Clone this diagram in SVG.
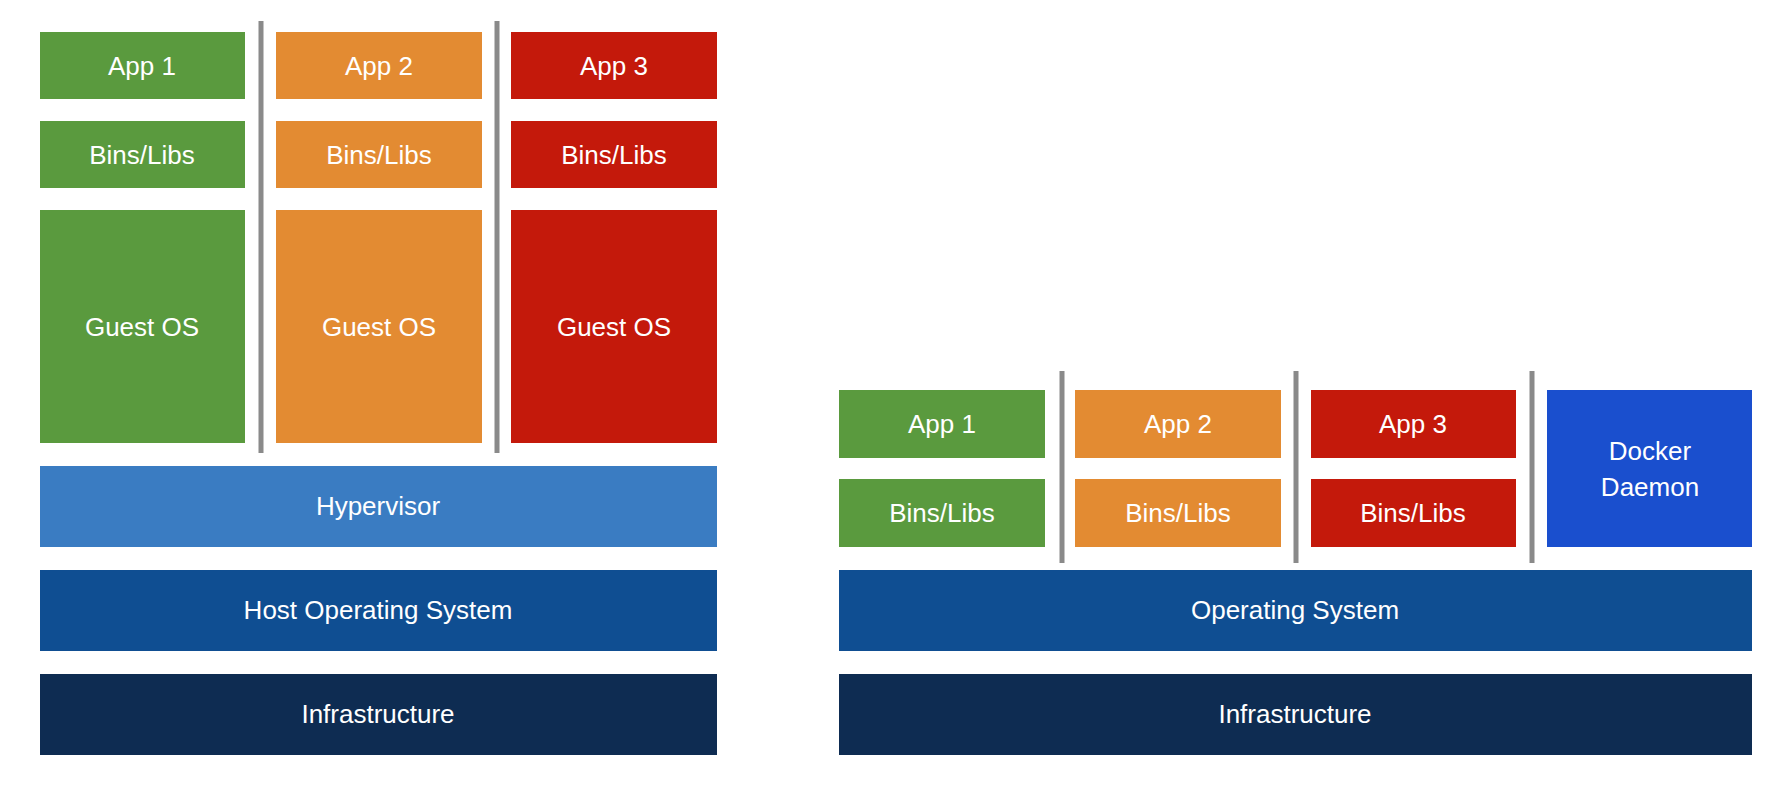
<svg xmlns="http://www.w3.org/2000/svg" width="1790" height="796" viewBox="0 0 1790 796">
<style>
text{font-family:"Liberation Sans",Arial,sans-serif;font-size:26px;fill:#fff;text-anchor:middle;dominant-baseline:central}
.g{fill:#5a9a3e}.o{fill:#e38b32}.r{fill:#c4190b}.hv{fill:#3a7cc2}.os{fill:#0f4e92}.inf{fill:#0e2c52}.dk{fill:#1a4fce}
line{stroke:#8a8a8a;stroke-width:5}
</style>
<rect width="1790" height="796" fill="#fff"/>
<g id="connectors">
<line x1="261" y1="21" x2="261" y2="453"/><line x1="497" y1="21" x2="497" y2="453"/>
<line x1="1062" y1="371" x2="1062" y2="563"/><line x1="1296" y1="371" x2="1296" y2="563"/><line x1="1532" y1="371" x2="1532" y2="563"/>
</g>
<g id="l-app1"><rect class="g" x="40" y="32" width="205" height="67"/><text x="142" y="66">App 1</text></g>
<g id="l-app2"><rect class="o" x="276" y="32" width="206" height="67"/><text x="379" y="66">App 2</text></g>
<g id="l-app3"><rect class="r" x="511" y="32" width="206" height="67"/><text x="614" y="66">App 3</text></g>
<g id="l-bins1"><rect class="g" x="40" y="121" width="205" height="67"/><text x="142" y="155">Bins/Libs</text></g>
<g id="l-bins2"><rect class="o" x="276" y="121" width="206" height="67"/><text x="379" y="155">Bins/Libs</text></g>
<g id="l-bins3"><rect class="r" x="511" y="121" width="206" height="67"/><text x="614" y="155">Bins/Libs</text></g>
<g id="l-os1"><rect class="g" x="40" y="210" width="205" height="233"/><text x="142" y="327">Guest OS</text></g>
<g id="l-os2"><rect class="o" x="276" y="210" width="206" height="233"/><text x="379" y="327">Guest OS</text></g>
<g id="l-os3"><rect class="r" x="511" y="210" width="206" height="233"/><text x="614" y="327">Guest OS</text></g>
<g id="hypervisor"><rect class="hv" x="40" y="466" width="677" height="81"/><text x="378" y="506">Hypervisor</text></g>
<g id="hostos"><rect class="os" x="40" y="570" width="677" height="81"/><text x="378" y="610">Host Operating System</text></g>
<g id="l-infra"><rect class="inf" x="40" y="674" width="677" height="81"/><text x="378" y="714">Infrastructure</text></g>
<g id="r-app1"><rect class="g" x="839" y="390" width="206" height="68"/><text x="942" y="424">App 1</text></g>
<g id="r-app2"><rect class="o" x="1075" y="390" width="206" height="68"/><text x="1178" y="424">App 2</text></g>
<g id="r-app3"><rect class="r" x="1311" y="390" width="205" height="68"/><text x="1413" y="424">App 3</text></g>
<g id="r-bins1"><rect class="g" x="839" y="479" width="206" height="68"/><text x="942" y="513">Bins/Libs</text></g>
<g id="r-bins2"><rect class="o" x="1075" y="479" width="206" height="68"/><text x="1178" y="513">Bins/Libs</text></g>
<g id="r-bins3"><rect class="r" x="1311" y="479" width="205" height="68"/><text x="1413" y="513">Bins/Libs</text></g>
<g id="docker"><rect class="dk" x="1547" y="390" width="205" height="157"/><text x="1650" y="451">Docker</text><text x="1650" y="487">Daemon</text></g>
<g id="r-os"><rect class="os" x="839" y="570" width="913" height="81"/><text x="1295" y="610">Operating System</text></g>
<g id="r-infra"><rect class="inf" x="839" y="674" width="913" height="81"/><text x="1295" y="714">Infrastructure</text></g>
</svg>
